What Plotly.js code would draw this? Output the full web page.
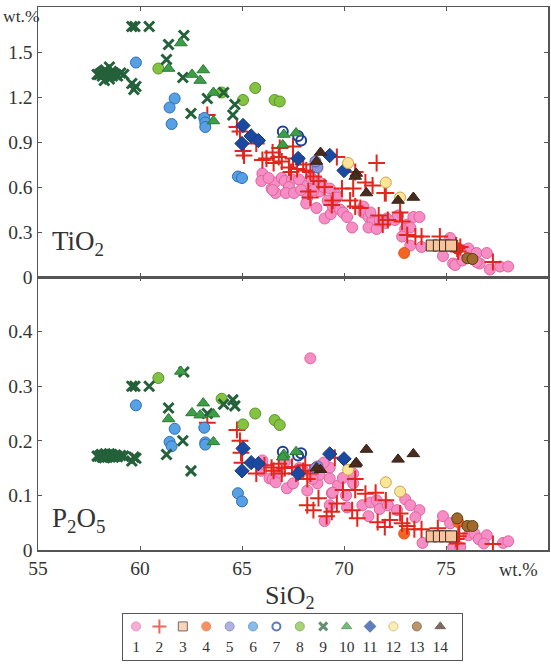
<!DOCTYPE html>
<html><head><meta charset="utf-8">
<script src="https://cdn.plot.ly/plotly-3.0.1.min.js"></script>
<style>html,body{margin:0;padding:0;background:#fff}#chart{width:551px;height:665px}</style>
</head><body><div id="chart"></div>
<script>
// ---------- DATA ----------
// Series 1 (pink circles) – dense, read separately per panel
const s1_ti_sio2 = [66.0,65.95,66.45,66.65,66.6,66.5,66.95,67.1,67.45,67.8,67.3,67.15,67.55,68.2,68.2,68.15,68.65,68.8,68.8,69.05,69.35,69.2,69.45,69.8,69.95,70.15,70.4,70.95,70.95,71.2,71.4,71.3,71.75,72.1,71.2,71.6,72.0,72.5,72.65,73.1,73.4,73.7,73.0,73.25,72.85,73.25,73.8,75.2,75.3,74.85,75.35,75.45,75.8,76.1,76.5,77.0,76.65,76.5,77.15,77.65,78.05,68.5,69.6,69.0,67.9,66.3,68.4,69.3,69.65];
const s1_ti = [0.69,0.64,0.59,0.56,0.63,0.58,0.66,0.64,0.65,0.65,0.60,0.56,0.56,0.61,0.53,0.49,0.46,0.57,0.63,0.39,0.42,0.51,0.47,0.45,0.43,0.40,0.33,0.47,0.43,0.40,0.38,0.43,0.38,0.39,0.33,0.32,0.36,0.38,0.41,0.35,0.40,0.40,0.32,0.33,0.27,0.21,0.20,0.26,0.21,0.14,0.09,0.08,0.11,0.19,0.16,0.16,0.09,0.10,0.05,0.07,0.07,0.58,0.55,0.60,0.58,0.66,0.66,0.59,0.53];
const s1_p_sio2 = [65.95,66.0,66.35,66.5,66.65,66.85,67.1,67.2,67.5,68.0,68.2,68.7,68.8,69.3,69.3,69.4,69.05,69.3,69.7,69.95,70.45,70.45,70.15,70.9,71.2,71.3,71.6,71.75,72.15,72.6,73.0,73.25,73.7,73.5,73.85,74.85,75.2,75.35,75.7,76.1,76.4,76.6,77.0,76.85,77.8,78.05,68.35,69.45,68.45,67.8,70.1,69.0,66.0];
const s1_p = [0.145,0.158,0.131,0.13,0.124,0.142,0.162,0.113,0.122,0.145,0.109,0.122,0.138,0.151,0.131,0.104,0.053,0.082,0.118,0.132,0.14,0.122,0.078,0.082,0.062,0.087,0.091,0.075,0.082,0.073,0.093,0.082,0.073,0.06,0.013,0.062,0.049,0.005,0.005,0.027,0.03,0.02,0.027,0.012,0.013,0.016,0.351,0.105,0.13,0.15,0.10,0.16,0.164];

// Series 2 (red crosses)
const s2_ti_sio2 = [63.3,64.75,64.9,65.05,65.1,65.7,66.2,66.5,66.55,66.85,66.95,67.3,67.4,67.5,67.5,68.0,68.15,68.35,68.75,69.05,68.25,68.35,69.45,69.4,69.65,70.55,71.05,71.4,71.6,72.0,69.9,70.45,70.3,70.55,70.8,71.7,72.15,71.9,72.75,72.85,73.1,73.5,73.8,74.7,75.5,75.55,75.6,75.7,77.3,66.8,66.0,67.7,68.5,72.05];
const s2_ti = [1.08,1.0,0.97,0.84,0.81,0.89,0.79,0.83,0.76,0.86,0.77,0.73,0.70,0.87,0.79,0.75,0.71,0.70,0.64,0.60,0.57,0.53,0.51,0.48,0.80,0.70,0.63,0.61,0.76,0.56,0.59,0.59,0.51,0.47,0.46,0.41,0.38,0.35,0.43,0.37,0.28,0.27,0.27,0.27,0.21,0.19,0.17,0.20,0.10,0.80,0.78,0.72,0.67,0.56];
const s2_p_sio2 = [63.3,64.75,64.9,64.95,65.0,65.7,66.1,66.45,66.55,66.8,67.1,67.45,67.65,68.0,68.2,68.35,68.75,68.2,68.5,69.15,69.4,69.65,69.55,69.95,70.55,70.55,70.4,70.65,71.05,71.55,72.05,71.65,72.0,72.25,72.75,72.85,73.1,73.45,73.8,74.6,75.5,75.6,75.55,75.65,77.3,66.95,68.1];
const s2_p = [0.233,0.22,0.20,0.178,0.16,0.14,0.155,0.151,0.145,0.158,0.15,0.152,0.14,0.145,0.13,0.14,0.095,0.082,0.073,0.062,0.07,0.085,0.169,0.11,0.13,0.11,0.073,0.058,0.103,0.105,0.091,0.051,0.042,0.055,0.067,0.049,0.044,0.038,0.038,0.04,0.02,0.025,0.012,0.03,0.011,0.14,0.155];

// Series 3..14 (shared SiO2)
const s3_sio2 = [74.3,74.65,74.95,75.25];
const s3_ti = [0.21,0.21,0.21,0.21];
const s3_p = [0.025,0.025,0.025,0.025];
const s4_sio2 = [72.95,75.6];
const s4_ti = [0.16,0.19];
const s4_p = [0.03,0.051];
const s5_sio2 = [68.7,68.6];
const s5_ti = [0.73,0.77];
const s5_p = [0.153,0.15];
const s6_sio2 = [59.8,61.7,61.45,61.55,63.15,63.2,63.2,64.8,65.0];
const s6_ti = [1.43,1.19,1.13,1.02,1.06,1.03,1.0,0.67,0.66];
const s6_p = [0.265,0.222,0.198,0.19,0.224,0.197,0.193,0.104,0.089];
const s7_sio2 = [67.0,67.75,67.9];
const s7_ti = [0.97,0.94,0.91];
const s7_p = [0.18,0.173,0.177];
const s8_sio2 = [60.9,64.0,65.05,65.65,66.6,66.85];
const s8_ti = [1.39,1.23,1.18,1.26,1.18,1.17];
const s8_p = [0.315,0.277,0.23,0.25,0.238,0.229];
const s9_sio2 = [57.9,58.0,58.1,58.15,58.2,58.3,58.35,58.4,58.45,58.5,58.55,58.6,58.65,58.7,58.8,58.9,59.05,59.2,58.25,58.5,59.6,59.75,60.45,59.6,59.7,59.8,61.4,61.3,62.15,62.1,62.5,63.3,64.1,64.65,64.55];
const s9_ti = [1.35,1.35,1.36,1.34,1.37,1.38,1.35,1.36,1.33,1.40,1.35,1.37,1.34,1.36,1.35,1.34,1.36,1.35,1.31,1.32,1.67,1.67,1.67,1.29,1.25,1.27,1.55,1.45,1.61,1.33,1.09,1.19,1.23,1.15,1.08];
const s9_p = [0.172,0.172,0.175,0.17,0.173,0.176,0.172,0.17,0.174,0.173,0.171,0.175,0.172,0.17,0.174,0.171,0.173,0.172,0.169,0.176,0.30,0.30,0.30,0.163,0.17,0.168,0.26,0.175,0.326,0.20,0.145,0.25,0.267,0.264,0.275];
const s10_sio2 = [62.0,61.4,62.55,63.1,62.95,63.6,63.6,67.05,67.65,67.0];
const s10_ti = [1.56,1.39,1.35,1.38,1.31,1.23,1.04,0.95,0.96,0.88];
const s10_p = [0.327,0.24,0.251,0.269,0.247,0.249,0.198,0.175,0.18,0.17];
const s11_sio2 = [65.05,65.0,65.45,65.8,67.75,69.3,70.0];
const s11_ti = [1.01,0.89,0.94,0.91,0.79,0.81,0.71];
const s11_p = [0.186,0.145,0.16,0.158,0.14,0.176,0.167];
const s12_sio2 = [70.2,72.05,72.75];
const s12_ti = [0.76,0.63,0.53];
const s12_p = [0.147,0.124,0.107];
const s13_sio2 = [75.55,76.05,76.3];
const s13_ti = [0.19,0.125,0.12];
const s13_p = [0.058,0.044,0.044];
const s14_sio2 = [68.85,68.65,70.6,70.55,71.1,72.65,73.4];
const s14_ti = [0.83,0.77,0.69,0.67,0.56,0.51,0.53];
const s14_p = [0.147,0.15,0.16,0.157,0.184,0.166,0.176];

const legendLabels = ['1','2','3','4','5','6','7','8','9','10','11','12','13','14'];
const xTicks = [55,60,65,70,75];
const tiTicks = [0,0.3,0.6,0.9,1.2,1.5];
const tiTickText = ['0','0.3','0.6','0.9','1.2','1.5'];
const pTicks = [0,0.1,0.2,0.3,0.4];
const pTickText = ['0','0.1','0.2','0.3','0.4'];

// ---------- STYLES ----------
const styles = [
  {symbol:'circle', size:11, color:'#f68dc4', line:'#e0649f', lw:1},
  {symbol:'cross-thin-open', size:12, color:'#e3261d', line:'#e3261d', lw:2},
  {symbol:'square', size:11, color:'#f9c49c', line:'#3a2a22', lw:1},
  {symbol:'circle', size:11, color:'#f26522', line:'#e05a1a', lw:1},
  {symbol:'circle', size:11, color:'#8f92d4', line:'#5b5fb0', lw:1},
  {symbol:'circle', size:11, color:'#56a0e3', line:'#2f6fb5', lw:1},
  {symbol:'circle-open', size:10, color:'#1d3f98', line:'#1d3f98', lw:2},
  {symbol:'circle', size:11, color:'#84c341', line:'#5b932e', lw:1},
  {symbol:'x-thin-open', size:10, color:'#24613a', line:'#24613a', lw:3},
  {symbol:'triangle-up', size:11, color:'#3d9e48', line:'#2a7a35', lw:1},
  {symbol:'diamond', size:11, color:'#1b49a0', line:'#163c85', lw:1},
  {symbol:'circle', size:11, color:'#fde597', line:'#c7a54e', lw:1},
  {symbol:'circle', size:11, color:'#a06a2c', line:'#5e3a14', lw:1},
  {symbol:'triangle-up', size:11, color:'#4a2c1f', line:'#3a2015', lw:1}
];

const series = [
  [s1_ti_sio2, s1_ti, s1_p_sio2, s1_p],
  [s2_ti_sio2, s2_ti, s2_p_sio2, s2_p],
  [s3_sio2, s3_ti, s3_sio2, s3_p],
  [s4_sio2, s4_ti, s4_sio2, s4_p],
  [s5_sio2, s5_ti, s5_sio2, s5_p],
  [s6_sio2, s6_ti, s6_sio2, s6_p],
  [s7_sio2, s7_ti, s7_sio2, s7_p],
  [s8_sio2, s8_ti, s8_sio2, s8_p],
  [s9_sio2, s9_ti, s9_sio2, s9_p],
  [s10_sio2, s10_ti, s10_sio2, s10_p],
  [s11_sio2, s11_ti, s11_sio2, s11_p],
  [s12_sio2, s12_ti, s12_sio2, s12_p],
  [s13_sio2, s13_ti, s13_sio2, s13_p],
  [s14_sio2, s14_ti, s14_sio2, s14_p]
];
// drawing order (later = on top)
const drawOrder = [0,3,12,1,2,4,5,6,7,8,9,10,11,13];

function mk(st){ return {symbol:st.symbol, size:st.size, color:st.color, line:{color:st.line, width:st.lw}}; }

const traces = [];
drawOrder.forEach(i=>{
  const s = series[i];
  traces.push({type:'scatter', mode:'markers', x:s[0], y:s[1], xaxis:'x', yaxis:'y', marker:mk(styles[i]), showlegend:false, hoverinfo:'skip'});
});
drawOrder.forEach(i=>{
  const s = series[i];
  traces.push({type:'scatter', mode:'markers', x:s[2], y:s[3], xaxis:'x2', yaxis:'y2', marker:mk(styles[i]), showlegend:false, hoverinfo:'skip'});
});
const W=551, H=665;
const fx = p=>p/W, fy = p=>1-p/H;
const FAM = 'Times New Roman, Liberation Serif, serif';

// Legend key as its own small subplot
const legX = legendLabels.map(l=>Number(l));
traces.push({type:'scatter', mode:'markers', x:legX, y:legX.map(()=>0.73), xaxis:'x3', yaxis:'y3',
  marker:{symbol:styles.map(s=>s.symbol), size:styles.map(s=>s.size-2), color:styles.map(s=>s.color),
    line:{color:styles.map(s=>s.line), width:styles.map(s=>s.lw)}}, showlegend:false, hoverinfo:'skip'});
traces.push({type:'scatter', mode:'text', x:legX, y:legX.map(()=>0.25), text:legendLabels, xaxis:'x3', yaxis:'y3',
  textfont:{family:FAM, size:15.5, color:'#333'}, showlegend:false, hoverinfo:'skip'});

const axFont = {family:FAM, size:19.5, color:'#333'};
const lineC = '#555';
const xbase = {range:[55,80], showgrid:false, zeroline:false, showline:true, mirror:'ticks', linecolor:lineC, linewidth:1.5,
  ticks:'inside', ticklen:4, tickcolor:lineC, tickvals:xTicks, tickfont:axFont};

const layout = {
  width:W, height:H, margin:{l:0,r:0,t:0,b:0}, paper_bgcolor:'#fff', plot_bgcolor:'#fff',
  font:{family:FAM, color:'#333'},
  xaxis: Object.assign({}, xbase, {domain:[fx(38),fx(548)], anchor:'y', showticklabels:false}),
  yaxis: {domain:[fy(277),fy(7)], anchor:'x', range:[0,1.8], showgrid:false, zeroline:false, showline:true, mirror:'ticks',
    linecolor:lineC, linewidth:1.5, ticks:'inside', ticklen:4, tickcolor:lineC, tickvals:tiTicks, ticktext:tiTickText, tickfont:axFont},
  xaxis2: Object.assign({}, xbase, {domain:[fx(38),fx(548)], anchor:'y2'}),
  yaxis2: {domain:[fy(550),fy(277)], anchor:'x2', range:[0,0.5], showgrid:false, zeroline:false, showline:true, mirror:'ticks',
    linecolor:lineC, linewidth:1.5, ticks:'inside', ticklen:4, tickcolor:lineC, tickvals:pTicks, ticktext:pTickText, tickfont:axFont},
  xaxis3: {domain:[fx(123),fx(462)], anchor:'y3', range:[0.444,14.93], showgrid:false, zeroline:false, showline:true, mirror:true,
    linecolor:lineC, linewidth:1.2, showticklabels:false, ticks:''},
  yaxis3: {domain:[fy(660),fy(614)], anchor:'x3', range:[0,1], showgrid:false, zeroline:false, showline:true, mirror:true,
    linecolor:lineC, linewidth:1.2, showticklabels:false, ticks:''},
  annotations:[
    {text:'TiO<sub>2</sub>', xref:'paper', yref:'paper', x:fx(50), y:fy(243), xanchor:'left', yanchor:'middle', showarrow:false,
      font:{family:FAM, size:27, color:'#333'}},
    {text:'P<sub>2</sub>O<sub>5</sub>', xref:'paper', yref:'paper', x:fx(50), y:fy(520), xanchor:'left', yanchor:'middle', showarrow:false,
      font:{family:FAM, size:27, color:'#333'}},
    {text:'wt.%', xref:'paper', yref:'paper', x:fx(1), y:fy(16), xanchor:'left', yanchor:'middle', showarrow:false,
      font:{family:FAM, size:17.5, color:'#333'}},
    {text:'wt.%', xref:'paper', yref:'paper', x:fx(518), y:fy(570), xanchor:'center', yanchor:'middle', showarrow:false,
      font:{family:FAM, size:18.5, color:'#333'}},
    {text:'SiO<sub>2</sub>', xref:'paper', yref:'paper', x:fx(290), y:fy(597), xanchor:'center', yanchor:'middle', showarrow:false,
      font:{family:FAM, size:26, color:'#333'}}
  ]
};

Plotly.newPlot('chart', traces, layout, {displayModeBar:false, staticPlot:true});
</script>
</body></html>
